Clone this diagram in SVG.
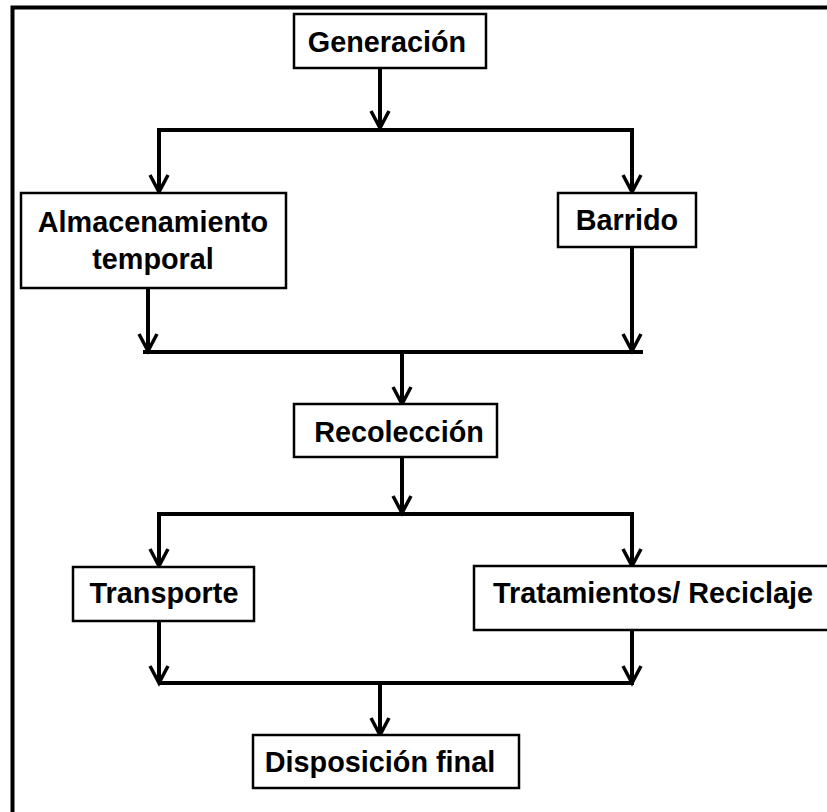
<svg xmlns="http://www.w3.org/2000/svg" width="827" height="812" viewBox="0 0 827 812">
  <style>
    .box { fill: #ffffff; stroke: #000000; stroke-width: 2.5; }
    .lbl { font-family: "Liberation Sans", Arial, sans-serif; font-weight: bold; font-size: 28.8px; fill: #000000; text-anchor: middle; }
    .wire { fill: none; stroke: #000000; stroke-width: 4; }
    .frame { fill: none; stroke: #000000; stroke-width: 4; }
  </style>
  <defs>
    <marker id="arrow" markerUnits="userSpaceOnUse" viewBox="0 0 24 24" markerWidth="24" markerHeight="24" refX="20" refY="12" orient="auto">
      <path d="M3 3 L20 12 L3 21" fill="none" stroke="#000000" stroke-width="3.5" stroke-linejoin="miter"/>
    </marker>
  </defs>

  <rect width="827" height="812" fill="#ffffff"/>

  <!-- outer frame (top and left edges) -->
  <path class="frame" d="M12.5 812 V7.5 H827"/>

  <!-- connectors -->
  <g id="connectors">
    <line class="wire" x1="380" y1="68" x2="380" y2="128" marker-end="url(#arrow)"/>
    <line class="wire" x1="157" y1="130" x2="634" y2="130"/>
    <line class="wire" x1="159" y1="128" x2="159" y2="192" marker-end="url(#arrow)"/>
    <line class="wire" x1="632" y1="128" x2="632" y2="192" marker-end="url(#arrow)"/>

    <line class="wire" x1="148" y1="288" x2="148" y2="351" marker-end="url(#arrow)"/>
    <line class="wire" x1="632" y1="247" x2="632" y2="351" marker-end="url(#arrow)"/>
    <line class="wire" x1="143" y1="352" x2="643" y2="352"/>
    <line class="wire" x1="402" y1="352" x2="402" y2="404" marker-end="url(#arrow)"/>

    <line class="wire" x1="402" y1="457" x2="402" y2="513" marker-end="url(#arrow)"/>
    <line class="wire" x1="157" y1="514" x2="634" y2="514"/>
    <line class="wire" x1="159" y1="512" x2="159" y2="566" marker-end="url(#arrow)"/>
    <line class="wire" x1="632" y1="512" x2="632" y2="566" marker-end="url(#arrow)"/>

    <line class="wire" x1="159" y1="621" x2="159" y2="683" marker-end="url(#arrow)"/>
    <line class="wire" x1="632" y1="630" x2="632" y2="683" marker-end="url(#arrow)"/>
    <line class="wire" x1="159" y1="683" x2="634" y2="683"/>
    <line class="wire" x1="380" y1="683" x2="380" y2="735" marker-end="url(#arrow)"/>
  </g>

  <!-- nodes -->
  <g id="generacion">
    <rect class="box" x="294" y="14" width="192" height="54"/>
    <text class="lbl" x="387" y="52">Generación</text>
  </g>

  <g id="almacenamiento">
    <rect class="box" x="21" y="193" width="265" height="95"/>
    <text class="lbl" x="153" y="232">Almacenamiento</text>
    <text class="lbl" x="153" y="269">temporal</text>
  </g>

  <g id="barrido">
    <rect class="box" x="558" y="193" width="138" height="54"/>
    <text class="lbl" x="627" y="230">Barrido</text>
  </g>

  <g id="recoleccion">
    <rect class="box" x="294" y="404" width="203" height="53"/>
    <text class="lbl" x="399" y="442">Recolección</text>
  </g>

  <g id="transporte">
    <rect class="box" x="73" y="567" width="181" height="54"/>
    <text class="lbl" x="164" y="603">Transporte</text>
  </g>

  <g id="tratamientos">
    <rect class="box" x="474" y="566" width="360" height="64"/>
    <text class="lbl" x="653" y="603">Tratamientos/ Reciclaje</text>
  </g>

  <g id="disposicion">
    <rect class="box" x="253" y="735" width="266" height="53"/>
    <text class="lbl" x="380" y="772">Disposición final</text>
  </g>
</svg>
